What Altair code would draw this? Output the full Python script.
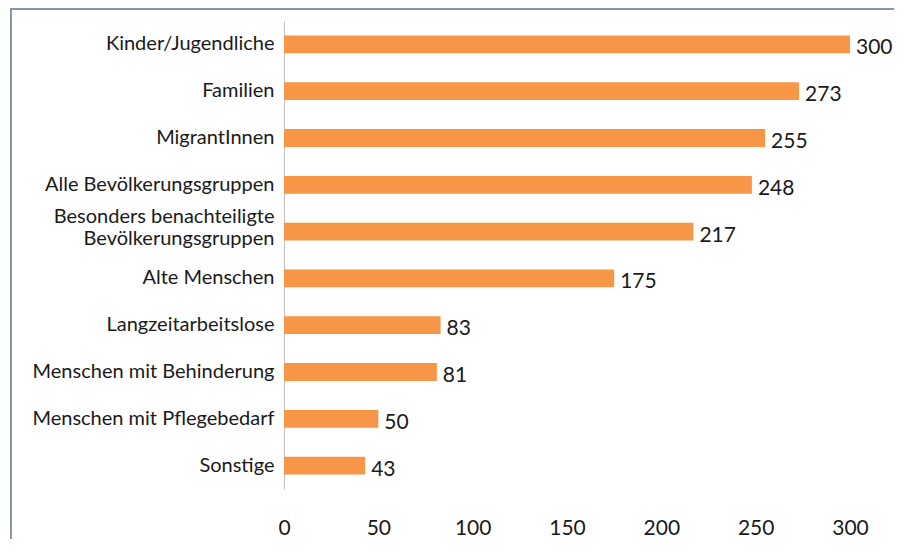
import altair as alt
import pandas as pd

categories = [
    "Kinder/Jugendliche",
    "Familien",
    "MigrantInnen",
    "Alle Bevölkerungsgruppen",
    "Besonders benachteiligte|Bevölkerungsgruppen",
    "Alte Menschen",
    "Langzeitarbeitslose",
    "Menschen mit Behinderung",
    "Menschen mit Pflegebedarf",
    "Sonstige",
]
values = [300, 273, 255, 248, 217, 175, 83, 81, 50, 43]
x_ticks = [0, 50, 100, 150, 200, 250, 300]

df = pd.DataFrame({"cat": categories, "val": values})

FONT = "Lato"
PAD_L, PAD_T, W, H = 276, 13, 566, 468

y_enc = alt.Y(
    "cat:N",
    sort=categories,
    title=None,
    scale=alt.Scale(paddingInner=0.62, paddingOuter=0.31),
    axis=alt.Axis(
        labelExpr="split(datum.label, '|')",
        labelFont=FONT,
        labelFontSize=20,
        labelColor="#1a1a1a",
        labelPadding=10,
        labelLineHeight=22,
        labelOffset={"condition": {"test": "indexof(datum.value, '|') >= 0", "value": -15}, "value": 0},
        ticks=False,
        domainColor="#bfbfbf",
        domainWidth=1,
        labelLimit=300,
    ),
)
x_enc = alt.X(
    "val:Q",
    title=None,
    scale=alt.Scale(domain=[0, 300], nice=False),
    axis=alt.Axis(
        values=x_ticks,
        grid=False,
        domain=False,
        ticks=False,
        labelFont=FONT,
        labelFontSize=21,
        labelColor="#1a1a1a",
        labelPadding=28,
        labelFlush=False,
    ),
)

bars = alt.Chart(df).mark_bar(color="#F79646").encode(x=x_enc, y=y_enc)

texts = alt.Chart(df).mark_text(
    align="left", baseline="middle", dx=6, dy=4, font=FONT, fontSize=21, color="#1a1a1a"
).encode(x="val:Q", y=alt.Y("cat:N", sort=categories), text="val:Q")

border = alt.Chart(pd.DataFrame({"a": [0]})).mark_rect(
    fill=None, stroke="#8796a2", strokeWidth=2
).encode(
    x=alt.value(-(PAD_L - 3)), x2=alt.value(700), y=alt.value(-(PAD_T - 1)), y2=alt.value(600)
)

chart = (
    alt.layer(bars, texts, border)
    .properties(
        width=W,
        height=H,
        padding={"left": PAD_L, "top": PAD_T, "right": 44, "bottom": 50},
        autosize=alt.AutoSizeParams(type="none"),
    )
    .configure(background="white", view=alt.ViewConfig(stroke="transparent", strokeWidth=0))
)

chart.save("out.html", embed_options={"renderer": "svg", "actions": False})
